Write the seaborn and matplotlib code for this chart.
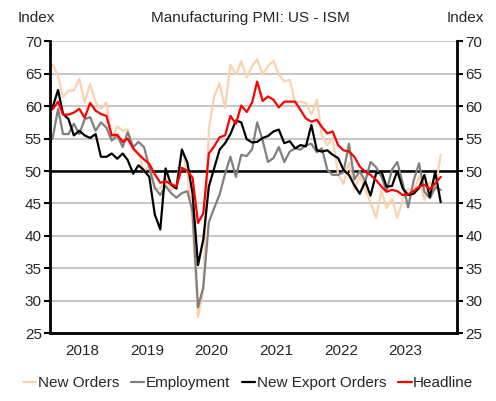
import pandas as pd
import seaborn as sns
import matplotlib.pyplot as plt
import matplotlib.dates as mdates

# monthly ISM manufacturing readings, Jan 2018 - Jan 2024
new_orders = [
    66.4, 64.7, 61.4, 62.4, 62.4, 64.2, 60.6, 63.4, 60.6, 59.6, 60.6, 54.9,
    56.9, 56.2, 56.4, 53.3, 52.7, 50.0, 50.8, 47.2, 47.3, 49.1, 47.2, 47.6,
    53.5, 49.8, 42.2, 27.5, 31.8, 56.4, 61.5, 63.5, 59.7, 66.4, 64.9, 66.9,
    64.4, 66.2, 67.2, 64.9, 66.2, 67.0, 64.9, 63.8, 64.1, 60.5, 60.7, 60.5,
    58.7, 61.0, 55.5, 54.0, 55.1, 49.5, 48.0, 51.3, 47.1, 49.2, 47.2, 45.2,
    42.8, 47.0, 44.3, 45.7, 42.8, 45.6, 47.3, 46.8, 49.2, 45.5, 48.3, 47.1,
    52.5,
]
employment = [
    55.0, 59.6, 55.7, 55.7, 57.3, 55.7, 58.0, 58.3, 56.2, 57.5, 56.7, 54.7,
    55.5, 53.7, 56.0, 53.7, 54.5, 53.7, 50.6, 47.4, 46.3, 47.7, 46.6, 45.9,
    46.6, 46.9, 43.8, 29.0, 32.1, 42.1, 44.3, 46.4, 49.6, 52.2, 49.1, 52.5,
    52.3, 53.4, 57.5, 54.7, 51.4, 52.0, 53.7, 51.4, 53.0, 53.5, 53.3, 54.0,
    54.2, 52.9, 53.5, 50.2, 49.4, 49.4, 49.8, 54.2, 48.7, 50.0, 48.4, 51.4,
    50.6, 49.1, 46.9, 50.2, 51.4, 48.1, 44.4, 48.5, 51.2, 46.8, 45.8, 47.5,
    47.1,
]
export_orders = [
    59.8, 62.5, 58.8, 58.0, 55.5, 56.2, 55.5, 55.1, 55.7, 52.2, 52.2, 52.7,
    51.9, 52.7, 51.7, 49.6, 50.9, 50.1, 49.1, 43.3, 41.0, 50.4, 47.9, 47.3,
    53.3, 51.3, 46.6, 35.5, 39.5, 47.6, 50.4, 53.3, 54.3, 55.7, 57.8, 57.5,
    54.9, 54.4, 54.5, 55.1, 55.4, 56.1, 56.4, 54.3, 54.6, 53.5, 54.0, 53.8,
    57.1, 53.2, 53.0, 53.2, 52.5, 52.0, 50.2, 49.4, 47.8, 46.5, 48.4, 46.2,
    49.6, 49.9, 47.6, 47.7, 50.0, 47.3, 46.3, 46.5, 47.4, 49.4, 46.0, 49.9,
    45.2,
]
headline = [
    59.5, 60.7, 58.7, 58.7, 59.0, 59.6, 58.2, 60.5, 59.3, 58.8, 58.5, 55.5,
    55.6, 54.5, 55.0, 53.5, 52.6, 51.8, 51.1, 49.5, 48.2, 48.4, 48.0, 47.6,
    50.5, 50.0, 49.0, 42.0, 43.5, 52.7, 53.8, 55.2, 55.5, 58.5, 57.3, 60.1,
    59.1, 60.6, 63.8, 60.8, 61.5, 61.0, 59.8, 60.7, 60.7, 60.7, 59.4, 58.1,
    57.6, 57.9, 56.8, 55.8, 56.1, 54.0, 53.2, 53.0, 52.2, 50.7, 49.9, 49.4,
    48.6, 47.6, 46.8, 47.1, 46.9, 46.3, 46.4, 46.9, 47.6, 47.9, 47.2, 48.1,
    49.1,
]
years = [2018, 2019, 2020, 2021, 2022, 2023]

dates = pd.date_range("2018-01-01", periods=len(headline), freq="MS") + pd.Timedelta(days=14)
series = {
    "New Orders": new_orders,
    "Employment": employment,
    "New Export Orders": export_orders,
    "Headline": headline,
}
df = pd.concat(
    [pd.DataFrame({"date": dates, "value": v, "series": k}) for k, v in series.items()],
    ignore_index=True,
)
colors = {
    "New Orders": "#FCD2AE",
    "Employment": "#808080",
    "New Export Orders": "#000000",
    "Headline": "#FF0000",
}

sns.set_style("white")
plt.rcParams["font.family"] = ["Liberation Sans", "DejaVu Sans"]
fs = 11

fig = plt.figure(figsize=(4.96, 4.01), dpi=100)
ax = fig.add_axes([0.101, 0.169, 0.820, 0.728])

for y in range(25, 75, 5):
    ax.axhline(y, color="#C8C8C8", lw=1.5, zorder=0)
ax.axhline(50, color="black", lw=1.8, zorder=1)

sns.lineplot(data=df, x="date", y="value", hue="series", palette=colors,
             hue_order=list(series), lw=1.6, ax=ax, legend=True)

ax.set_ylim(25, 70)
ax.set_yticks(range(25, 75, 5))
ax.set_xlim(pd.Timestamp("2018-01-01"), pd.Timestamp("2024-04-15"))
ax.xaxis.set_major_locator(mdates.YearLocator(month=1, day=1))
ax.xaxis.set_major_formatter(plt.NullFormatter())
ax.set_xticks([pd.Timestamp(f"{y}-07-01") for y in years], minor=True)
ax.set_xticklabels([str(y) for y in years], minor=True)
ax.tick_params(axis="x", which="major", direction="out", length=4, width=1.8, color="black")
ax.tick_params(axis="x", which="minor", length=0, pad=8, labelsize=fs)
ax.tick_params(axis="y", direction="out", length=4, width=1.5, color="black",
               left=True, right=True, labelleft=True, labelright=True, labelsize=fs, pad=2)
ax.set_xlabel("")
ax.set_ylabel("")
ax.grid(False)

for side in ["left", "right", "bottom"]:
    ax.spines[side].set_color("black")
    ax.spines[side].set_linewidth(2)
ax.spines["top"].set_visible(False)

handles, labels = ax.get_legend_handles_labels()
ax.get_legend().remove()
fig.legend(handles, labels, loc="center", bbox_to_anchor=(0.5, 0.045), ncol=4,
           frameon=False, handlelength=0.9, handletextpad=0.1, columnspacing=0.75,
           fontsize=fs)

fig.text(0.505, 0.955, "Manufacturing PMI: US - ISM", ha="center", va="center", fontsize=fs)
fig.text(0.036, 0.955, "Index", ha="left", va="center", fontsize=fs)
fig.text(0.975, 0.955, "Index", ha="right", va="center", fontsize=fs)

fig.savefig("out.png", dpi=100)
